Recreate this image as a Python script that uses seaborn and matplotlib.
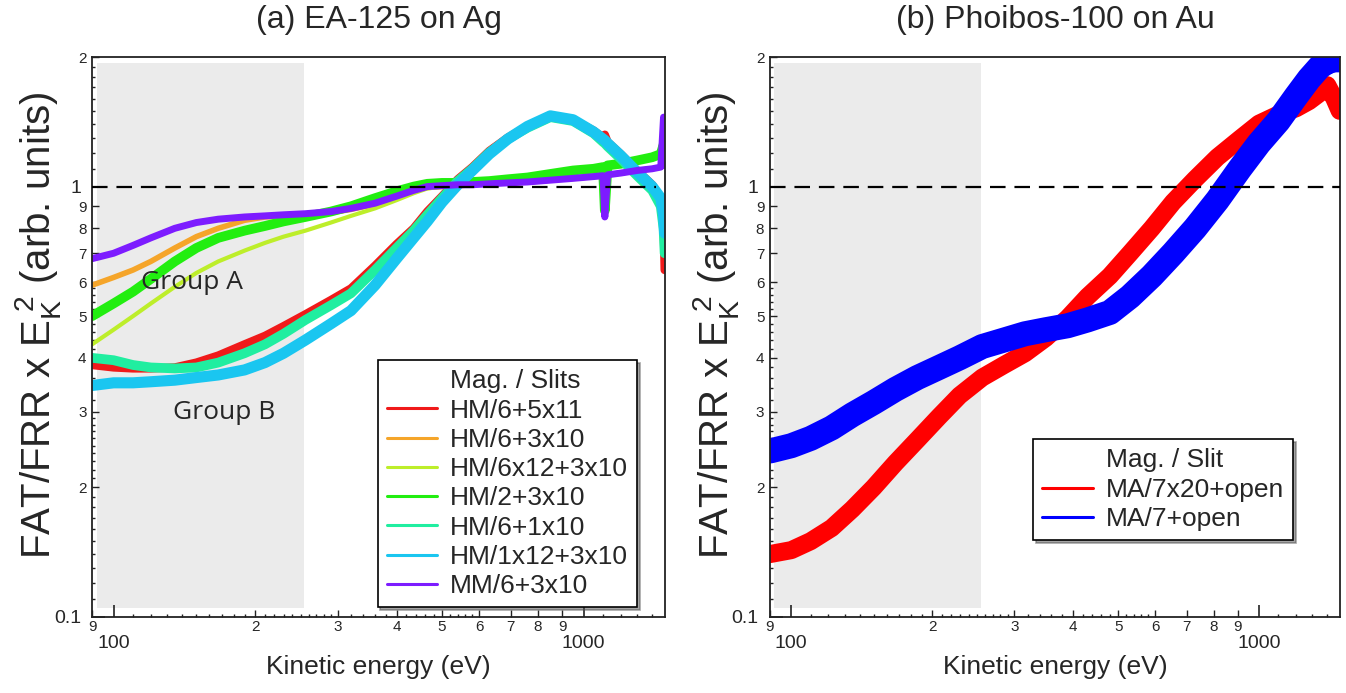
import numpy as np
import pandas as pd
import matplotlib
matplotlib.use("Agg")
import matplotlib.pyplot as plt
from matplotlib.ticker import FixedLocator, FixedFormatter
from matplotlib.lines import Line2D
import seaborn as sns

# ---------------- data ----------------
ea_energy = [90, 100, 110, 120, 135, 150, 167, 190, 210, 230, 256, 290, 320, 360, 400, 435, 465,
             500, 540, 580, 630, 690, 760, 850, 950, 1050, 1100, 1110, 1125, 1200, 1300, 1400,
             1460, 1480, 1488]
ea_hm6_5x11 = [0.385, 0.38, 0.378, 0.378, 0.38, 0.39, 0.405, 0.43, 0.45, 0.474, 0.505, 0.545, 0.58,
               0.655, 0.735, 0.80, 0.875, 0.95, 1.04, 1.11, 1.21, 1.30, 1.38, 1.46, 1.43, 1.35, 1.30,
               1.32, 1.27, 1.19, 1.09, 1.01, 0.94, 0.84, 0.64]
ea_hm6_3x10 = [0.59, 0.615, 0.64, 0.67, 0.72, 0.765, 0.80, 0.835, 0.85, 0.855, 0.86, 0.87, 0.885,
               0.91, 0.945, 0.975, 0.995, 1.0, 1.005, 1.01, 1.015, 1.02, 1.025, 1.035, 1.045, 1.055,
               1.06, 1.06, 1.065, 1.075, 1.09, 1.10, 1.11, 1.12, 1.12]
ea_hm6x12_3x10 = [0.43, 0.465, 0.50, 0.535, 0.585, 0.63, 0.67, 0.71, 0.74, 0.765, 0.79, 0.825, 0.855,
                  0.89, 0.93, 0.965, 0.99, 1.0, 1.005, 1.01, 1.015, 1.02, 1.025, 1.035, 1.045, 1.055,
                  1.06, 1.06, 1.065, 1.075, 1.09, 1.10, 1.11, 1.12, 1.12]
ea_hm2_3x10 = [0.50, 0.535, 0.57, 0.61, 0.67, 0.72, 0.76, 0.79, 0.81, 0.83, 0.85, 0.875, 0.90, 0.94,
               0.975, 1.0, 1.015, 1.02, 1.02, 1.025, 1.03, 1.04, 1.05, 1.07, 1.09, 1.10, 1.11, 0.88,
               1.12, 1.13, 1.15, 1.17, 1.19, 1.25, 1.20]
ea_hm6_1x10 = [0.40, 0.395, 0.385, 0.38, 0.378, 0.38, 0.39, 0.41, 0.43, 0.455, 0.49, 0.53, 0.565,
               0.64, 0.72, 0.79, 0.86, 0.94, 1.03, 1.10, 1.20, 1.29, 1.37, 1.45, 1.42, 1.33, 1.27,
               1.26, 1.24, 1.16, 1.06, 0.98, 0.90, 0.80, 0.70]
ea_hm1x12_3x10 = [0.345, 0.35, 0.35, 0.352, 0.355, 0.36, 0.365, 0.375, 0.39, 0.41, 0.44, 0.48, 0.515,
                  0.59, 0.68, 0.76, 0.83, 0.92, 1.01, 1.09, 1.19, 1.29, 1.38, 1.46, 1.43, 1.34, 1.29,
                  1.28, 1.26, 1.18, 1.08, 1.00, 0.94, 0.86, 0.78]
ea_mm6_3x10 = [0.68, 0.70, 0.73, 0.76, 0.80, 0.825, 0.84, 0.85, 0.855, 0.86, 0.865, 0.875, 0.89,
               0.915, 0.95, 0.98, 1.0, 1.005, 1.01, 1.01, 1.015, 1.02, 1.025, 1.035, 1.045, 1.055,
               1.06, 0.85, 1.065, 1.075, 1.09, 1.10, 1.11, 1.45, 1.12]
ea_labels = ["HM/6+5x11", "HM/6+3x10", "HM/6x12+3x10", "HM/2+3x10", "HM/6+1x10",
             "HM/1x12+3x10", "MM/6+3x10"]

ph_energy = [90, 100, 110, 122, 135, 150, 167, 186, 207, 229, 256, 285, 316, 350, 390, 430, 480,
             530, 590, 655, 730, 815, 910, 1000, 1100, 1200, 1280, 1350, 1400, 1450, 1488]
ph_ma7x20_open = [0.14, 0.143, 0.15, 0.161, 0.178, 0.20, 0.228, 0.258, 0.292, 0.327, 0.36, 0.385,
                  0.41, 0.445, 0.495, 0.555, 0.62, 0.70, 0.80, 0.92, 1.04, 1.17, 1.29, 1.40, 1.47,
                  1.52, 1.58, 1.65, 1.72, 1.60, 1.50]
ph_ma7_open = [0.243, 0.25, 0.26, 0.275, 0.295, 0.315, 0.338, 0.36, 0.38, 0.40, 0.425, 0.44, 0.455,
               0.465, 0.475, 0.49, 0.51, 0.555, 0.62, 0.70, 0.80, 0.93, 1.10, 1.26, 1.42, 1.62,
               1.78, 1.90, 1.95, 1.97, 1.97]
ph_labels = ["MA/7x20+open", "MA/7+open"]

# tick labels
x_major_ticks = [100, 1000]
x_major_labels = ["100", "1000"]
x_minor_ticks = [90, 200, 300, 400, 500, 600, 700, 800, 900]
x_minor_labels = ["9", "2", "3", "4", "5", "6", "7", "8", "9"]
y_major_ticks = [0.1, 1]
y_major_labels = ["0.1", "1"]
y_minor_ticks = [0.2, 0.3, 0.4, 0.5, 0.6, 0.7, 0.8, 0.9, 2]
y_minor_labels = ["2", "3", "4", "5", "6", "7", "8", "9", "2"]

# ---------------- style ----------------
sns.set_theme(style="white")
plt.rcParams["font.family"] = ["Liberation Sans", "DejaVu Sans"]
plt.rcParams["mathtext.fontset"] = "custom"
plt.rcParams["mathtext.rm"] = "Liberation Sans"
plt.rcParams["mathtext.it"] = "Liberation Sans:italic"

fig = plt.figure(figsize=(13.46, 6.93), dpi=100)
axL = fig.add_axes([0.0684, 0.1097, 0.4256, 0.808])
axR = fig.add_axes([0.572, 0.1097, 0.4235, 0.808])

x_sub = sorted(set(np.round(np.concatenate([np.arange(110, 300, 10), np.arange(320, 600, 20),
                                           np.arange(1100, 1500, 100)]), 3)) - set(x_minor_ticks))
y_sub = sorted(set(np.round(np.concatenate([np.arange(0.11, 0.3, 0.01), np.arange(0.32, 0.6, 0.02),
                                           np.arange(1.1, 2.0, 0.1)]), 3)) - set(y_minor_ticks))


def setup(ax):
    ax.set_xscale("log")
    ax.set_yscale("log")
    ax.set_xlim(90, 1490)
    ax.set_ylim(0.1, 2)
    ax.axvspan(92, 254, ymin=0.016, ymax=0.99, color="#ebebeb", lw=0, zorder=0)
    for sp in ax.spines.values():
        sp.set_visible(True)
        sp.set_color("#222222")
        sp.set_linewidth(1.3)
    ax.xaxis.set_major_locator(FixedLocator(x_major_ticks))
    ax.xaxis.set_major_formatter(FixedFormatter(x_major_labels))
    xm = sorted(list(x_minor_ticks) + list(x_sub))
    ax.xaxis.set_minor_locator(FixedLocator(xm))
    ax.xaxis.set_minor_formatter(FixedFormatter(
        [x_minor_labels[x_minor_ticks.index(v)] if v in x_minor_ticks else "" for v in xm]))
    ym = sorted(list(y_minor_ticks) + list(y_sub))
    ax.yaxis.set_major_locator(FixedLocator(y_major_ticks))
    ax.yaxis.set_major_formatter(FixedFormatter(y_major_labels))
    ax.yaxis.set_minor_locator(FixedLocator(ym))
    ax.yaxis.set_minor_formatter(FixedFormatter(
        [y_minor_labels[y_minor_ticks.index(v)] if v in y_minor_ticks else "" for v in ym]))
    ax.tick_params(which="major", direction="in", length=9, width=1.2, color="#222222",
                   labelsize=14, bottom=True, left=True, top=False, right=False)
    ax.tick_params(axis="x", which="major", pad=13)
    ax.tick_params(axis="y", which="major", pad=8)
    ax.tick_params(which="minor", direction="in", length=5, width=1.0, color="#222222",
                   labelsize=11, bottom=True, left=True, top=False, right=False)
    ax.tick_params(axis="x", which="minor", pad=2)
    ax.tick_params(axis="y", which="minor", pad=4)
    for t, v in zip(ax.xaxis.get_minor_ticks(len(xm)), xm):
        if v not in x_minor_ticks:
            t.tick1line.set_markersize(2.5)
    for t, v in zip(ax.yaxis.get_minor_ticks(len(ym)), ym):
        if v not in y_minor_ticks:
            t.tick1line.set_markersize(2.5)
    ax.set_xlabel("Kinetic energy (eV)", fontsize=19, labelpad=2)
    ax.set_ylabel(r"FAT/FRR x E$_{\mathrm{K}}^{\ \mathrm{2}}$ (arb. units)", fontsize=29)
    ax.yaxis.set_label_coords(-0.050, 0.52)


def make_legend(ax, title, colors, labels, anchor):
    handles = [Line2D([], [], color="none", label=title)] + \
              [Line2D([], [], color=c, lw=2.2, label=l) for c, l in zip(colors, labels)]
    leg = ax.legend(handles=handles, loc="lower right", bbox_to_anchor=anchor,
                    borderaxespad=0, fontsize=19, frameon=True, fancybox=False, shadow=True,
                    handlelength=1.9, handletextpad=0.5, labelspacing=0.2, borderpad=0.35)
    leg.get_frame().set_edgecolor("black")
    leg.get_frame().set_linewidth(1.2)
    return leg


# ---------------- left panel ----------------
setup(axL)
ea_series = [ea_hm6_5x11, ea_hm6_3x10, ea_hm6x12_3x10, ea_hm2_3x10, ea_hm6_1x10, ea_hm1x12_3x10,
             ea_mm6_3x10]
ea_colors = ["#f01a1a", "#f5a52a", "#bdee2a", "#22ee10", "#20eea0", "#1ac6f0", "#7d1cff"]
ea_widths = [6, 4, 3, 7, 7, 8, 5]
df_ea = pd.DataFrame({"energy": np.tile(ea_energy, len(ea_labels)),
                      "value": np.concatenate(ea_series),
                      "series": np.repeat(ea_labels, len(ea_energy))})
for lab, col, lw in zip(ea_labels, ea_colors, ea_widths):
    sns.lineplot(data=df_ea[df_ea["series"] == lab], x="energy", y="value", ax=axL, color=col,
                 linewidth=lw, estimator=None, sort=True, legend=False, zorder=2)
axL.axhline(1, xmin=0, xmax=0.985, color="black", lw=1.6, dashes=(7, 4), zorder=3)
axL.text(147, 0.60, "Group A", fontsize=19, family="Open Sans", ha="center", va="center", zorder=4)
axL.text(172, 0.298, "Group B", fontsize=19, family="Open Sans", ha="center", va="center", zorder=4)
axL.set_title("(a) EA-125 on Ag", fontsize=23, pad=21)
make_legend(axL, "Mag. / Slits", ea_colors, ea_labels, (0.952, 0.017))

# ---------------- right panel ----------------
setup(axR)
ph_colors = ["#ff0000", "#0000ff"]
ph_widths = [13, 18]
df_ph = pd.DataFrame({"energy": np.tile(ph_energy, 2),
                      "value": np.concatenate([ph_ma7x20_open, ph_ma7_open]),
                      "series": np.repeat(ph_labels, len(ph_energy))})
for lab, col, lw in zip(ph_labels, ph_colors, ph_widths):
    sns.lineplot(data=df_ph[df_ph["series"] == lab], x="energy", y="value", ax=axR, color=col,
                 linewidth=lw, estimator=None, sort=True, legend=False, zorder=2)
axR.axhline(1, color="black", lw=1.6, dashes=(7, 4), zorder=3)
axR.set_title("(b) Phoibos-100 on Au", fontsize=23, pad=21)
make_legend(axR, "Mag. / Slit", ph_colors, ph_labels, (0.918, 0.137))

fig.savefig("out.png", dpi=100)
